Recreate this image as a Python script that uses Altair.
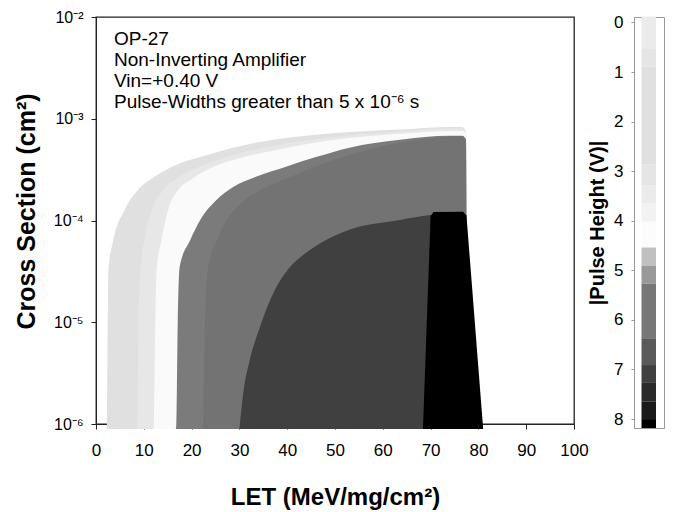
import altair as alt
import pandas as pd

BOTTOM = 0.893e-6  # lower limit of the contoured data (just under 1e-6)

# Contour regions: upper boundary (LET, cross section) for each filled level, outermost first
A_LET = [2.2, 2.3, 2.45, 2.6, 3.6, 6.0, 8.8, 12.3, 16.0, 21.8, 28.7, 37.8, 45.0, 55.0, 65.0, 74.0, 76.5, 77.3, 77.5]
A_SIG = [BOTTOM, 1e-6, 1e-5, 3.3e-5, 6.4e-5, 1.27e-4, 2.0e-4, 2.7e-4, 3.4e-4, 4.2e-4, 5.2e-4, 6.3e-4, 6.9e-4, 7.5e-4, 7.9e-4, 8.3e-4, 8.3e-4, 7.7e-4, BOTTOM]

B_LET = [8.5, 8.6, 8.9, 9.3, 10.3, 11.6, 13.7, 16.9, 21.8, 28.0, 37.8, 45.0, 55.0, 65.0, 74.0, 76.6, 77.3, 77.5]
B_SIG = [BOTTOM, 1e-6, 1e-5, 3.3e-5, 7e-5, 1.25e-4, 1.9e-4, 2.6e-4, 3.4e-4, 4.3e-4, 5.5e-4, 6.2e-4, 7.0e-4, 7.6e-4, 8.0e-4, 8.0e-4, 7.4e-4, BOTTOM]

C_LET = [12.0, 12.1, 12.4, 12.7, 13.7, 15.1, 17.2, 19.7, 24.5, 30.1, 37.8, 44.8, 55.0, 65.0, 74.0, 76.8, 77.4, 77.6]
C_SIG = [BOTTOM, 1e-6, 1e-5, 3.3e-5, 6.4e-5, 1.27e-4, 2.0e-4, 2.5e-4, 3.36e-4, 4.11e-4, 4.93e-4, 5.7e-4, 6.6e-4, 7.2e-4, 7.6e-4, 7.6e-4, 7.0e-4, BOTTOM]

D1_LET = [16.7, 16.8, 17.1, 17.5, 19.7, 21.8, 25.2, 28.7, 33.6, 39.9, 46.0, 53.0, 63.6, 74.0, 76.6, 77.4, 77.6]
D1_SIG = [BOTTOM, 1e-6, 1e-5, 3.5e-5, 6.4e-5, 1.01e-4, 1.59e-4, 2.13e-4, 2.7e-4, 3.4e-4, 4.2e-4, 5.2e-4, 6.2e-4, 6.8e-4, 6.8e-4, 6.2e-4, BOTTOM]

D_LET = [22.3, 22.4, 22.8, 23.5, 25.3, 27.3, 30.5, 34.5, 40.0, 46.0, 53.0, 63.6, 74.0, 76.6, 77.4, 77.6]
D_SIG = [BOTTOM, 1e-6, 1e-5, 3.5e-5, 6.4e-5, 1.0e-4, 1.5e-4, 2.0e-4, 2.6e-4, 3.4e-4, 4.4e-4, 5.8e-4, 6.7e-4, 6.75e-4, 6.15e-4, BOTTOM]

E_LET = [30.0, 30.1, 30.8, 32.2, 34.3, 37.1, 40.6, 43.4, 47.0, 53.0, 63.6, 69.9, 76.0, 77.3, 77.5]
E_SIG = [BOTTOM, 1e-6, 2.0e-6, 4.3e-6, 9e-6, 1.94e-5, 3.5e-5, 4.6e-5, 6.0e-5, 8.1e-5, 1.01e-4, 1.13e-4, 1.19e-4, 1.1e-4, BOTTOM]

F_LET = [68.4, 70.0, 70.6, 76.8, 77.5, 81.0]
F_SIG = [BOTTOM, 1.1e-4, 1.21e-4, 1.22e-4, 1.12e-4, BOTTOM]

REGIONS = [
    (A_LET, A_SIG, "#e0e0e0", "monotone"),
    (B_LET, B_SIG, "#e7e7e7", "monotone"),
    (C_LET, C_SIG, "#fafafa", "monotone"),
    (D1_LET, D1_SIG, "#7b7b7b", "monotone"),
    (D_LET, D_SIG, "#737373", "monotone"),
    (E_LET, E_SIG, "#404040", "monotone"),
    (F_LET, F_SIG, "#000000", "linear"),
]

# Colour bar levels (|Pulse Height| in V)
CB_LO = [-0.12, 0.52, 0.89, 2.87, 3.28, 3.64, 4.02, 4.54, 4.91, 5.27, 6.37, 6.91, 7.27, 7.65, 8.0]
CB_HI = [0.52, 0.89, 2.87, 3.28, 3.64, 4.02, 4.54, 4.91, 5.27, 6.37, 6.91, 7.27, 7.65, 8.0, 8.18]
CB_COL = ["#ebebeb", "#e5e5e5", "#e0e0e0", "#e5e5e5", "#ebebeb", "#f2f2f2", "#fcfcfc",
          "#c0c0c0", "#999999", "#777777", "#5a5a5a", "#404040", "#2a2a2a", "#1a1a1a", "#000000"]

X_TICKS = list(range(0, 101, 10))
Y_TICKS = [1e-6, 1e-5, 1e-4, 1e-3, 1e-2]
CB_TICKS = list(range(0, 9))

NOTE = ["OP-27", "Non-Inverting Amplifier", "Vin=+0.40 V",
        "Pulse-Widths greater than 5 x 10\u207b\u2076 s"]

FONT = "Liberation Sans"

xscale = alt.Scale(domain=[0, 100], nice=False, zero=False)
yscale = alt.Scale(type="log", domain=[1e-6, 1e-2], nice=False)

xaxis = alt.Axis(values=X_TICKS, title="LET (MeV/mg/cm\u00b2)",
                 labelFontSize=17, titleFontSize=24, titleFontWeight="bold",
                 tickSize=5, labelPadding=13, titlePadding=27,
                 grid=False, labelFlush=False)
yaxis = alt.Axis(values=Y_TICKS, title="Cross Section (cm\u00b2)",
                 labelExpr="'10\u207b' + ['\u2070','\u00b9','\u00b2','\u00b3','\u2074','\u2075','\u2076','\u2077'][round(-log(datum.value)/LN10)]",
                 labelFontSize=16, titleFontSize=25, titleFontWeight="bold",
                 tickSize=5, labelPadding=8, titlePadding=14, titleY=194, grid=False)

layers = []
for lets, sigs, col, interp in REGIONS:
    df = pd.DataFrame({"LET": lets, "sigma": sigs, "base": [BOTTOM] * len(lets)})
    layers.append(
        alt.Chart(df).mark_area(color=col, clip=False, interpolate=interp).encode(
            x=alt.X("LET:Q", scale=xscale, axis=xaxis),
            y=alt.Y("sigma:Q", scale=yscale, axis=yaxis),
            y2=alt.Y2("base:Q"),
        )
    )

note = alt.Chart(alt.Data(values=[{}])).mark_text(
    text=NOTE, align="left", baseline="alphabetic", fontSize=19, lineHeight=21,
    font=FONT, color="black"
).encode(x=alt.value(18), y=alt.value(28))

main = alt.layer(*layers, note).properties(width=478, height=407)

cb_df = pd.DataFrame({"lo": CB_LO, "hi": CB_HI, "col": CB_COL})
cbar = alt.Chart(cb_df).mark_rect().encode(
    x=alt.value(7.5), x2=alt.value(22),
    y=alt.Y("lo:Q", scale=alt.Scale(domain=[-0.11, 8.18], reverse=True, nice=False, zero=False),
            axis=alt.Axis(values=CB_TICKS, title="|Pulse Height (V)|", labelFontSize=17,
                          titleFontSize=20, titleFontWeight="bold", tickSize=3,
                          tickColor="#999999", domain=False, labelPadding=8, titlePadding=6,
                          grid=False)),
    y2="hi:Q",
    color=alt.Color("col:N", scale=None),
).properties(width=30, height=411, view=alt.ViewBackground(stroke="#999999", strokeWidth=1))

chart = alt.hconcat(main, cbar, spacing=60, bounds="flush").properties(
    padding={"left": 13, "top": 8, "right": 0, "bottom": 0}
).configure(font=FONT).configure_view(stroke="#222222", strokeWidth=1.3).configure_axis(
    domainColor="#222222", tickColor="#222222", labelColor="black", titleColor="black",
    labelFont=FONT, titleFont=FONT
)

chart.save("out.html", embed_options={"renderer": "svg", "actions": False})
